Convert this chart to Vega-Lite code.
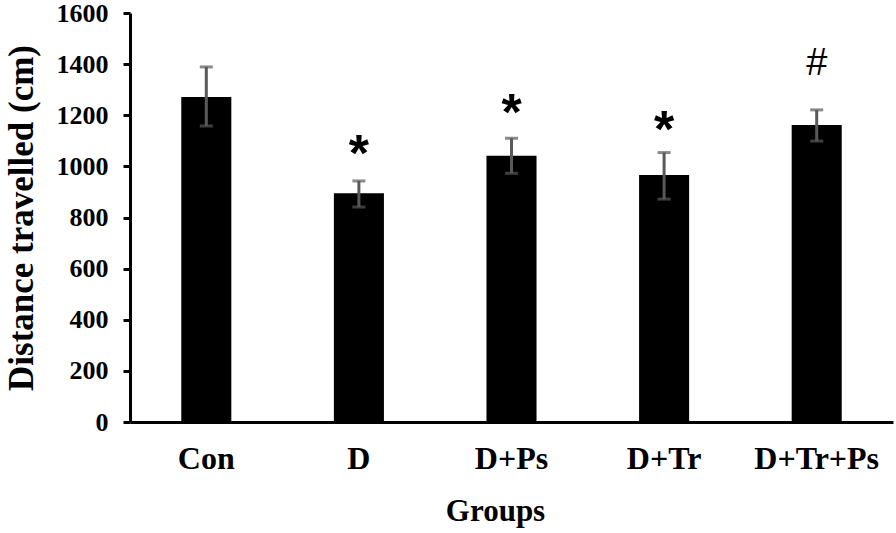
{
  "$schema": "https://vega.github.io/schema/vega-lite/v6.json",
  "autosize": "none",
  "width": 763,
  "height": 409,
  "padding": {"left": 130, "top": 13, "right": 3, "bottom": 111},
  "background": "white",
  "config": {"view": {"stroke": null}},
  "data": {
    "values": [
      {"group": "Con", "mean": 1271, "lo": 1158, "hi": 1389, "mark": "", "markY": 0},
      {"group": "D", "mean": 895, "lo": 841, "hi": 943, "mark": "*", "markY": 1081},
      {"group": "D+Ps", "mean": 1042, "lo": 973, "hi": 1110, "mark": "*", "markY": 1240},
      {"group": "D+Tr", "mean": 966, "lo": 872, "hi": 1054, "mark": "*", "markY": 1175},
      {"group": "D+Tr+Ps", "mean": 1162, "lo": 1099, "hi": 1221, "mark": "#", "markY": 1400}
    ]
  },
  "encoding": {
    "x": {
      "field": "group",
      "type": "nominal",
      "sort": null,
      "scale": {"paddingInner": 0.672, "paddingOuter": 0.336},
      "axis": {
        "title": "Groups",
        "labelAngle": 0,
        "labelFont": "Liberation Serif",
        "labelFontWeight": "bold",
        "labelFontSize": 32,
        "labelColor": "black",
        "labelPadding": 21,
        "ticks": false,
        "domainColor": "black",
        "domainWidth": 3,
        "titleFont": "Liberation Serif",
        "titleFontWeight": "bold",
        "titleFontSize": 31,
        "titleColor": "black",
        "titlePadding": 22,
        "titleX": 365
      }
    }
  },
  "layer": [
    {
      "mark": {"type": "bar", "color": "black"},
      "encoding": {
        "y": {
          "field": "mean",
          "type": "quantitative",
          "scale": {"domain": [0, 1600], "nice": false},
          "axis": {
            "title": "Distance travelled (cm)",
            "values": [0, 200, 400, 600, 800, 1000, 1200, 1400, 1600],
            "format": "d",
            "grid": false,
            "labelFont": "Liberation Serif",
            "labelFontWeight": "bold",
            "labelFontSize": 26,
            "labelColor": "black",
            "labelPadding": 15,
            "tickColor": "black",
            "tickWidth": 3,
            "tickSize": 7,
            "domainColor": "black",
            "domainWidth": 3,
            "titleFont": "Liberation Serif",
            "titleFontWeight": "bold",
            "titleFontSize": 35,
            "titleColor": "black",
            "titlePadding": 17
          }
        }
      }
    },
    {
      "mark": {"type": "rule", "color": "#595959", "strokeWidth": 3},
      "encoding": {
        "y": {"field": "lo", "type": "quantitative"},
        "y2": {"field": "hi"}
      }
    },
    {
      "mark": {"type": "tick", "color": "#595959", "thickness": 3, "size": 13, "orient": "horizontal"},
      "encoding": {"y": {"field": "hi", "type": "quantitative"}}
    },
    {
      "mark": {"type": "tick", "color": "#595959", "thickness": 3, "size": 13, "orient": "horizontal"},
      "encoding": {"y": {"field": "lo", "type": "quantitative"}}
    },
    {
      "transform": [{"filter": "datum.mark == '*'"}],
      "mark": {"type": "text", "font": "Liberation Sans", "fontWeight": "bold", "fontSize": 52, "baseline": "middle", "color": "black", "dy": 9},
      "encoding": {
        "y": {"field": "markY", "type": "quantitative"},
        "text": {"field": "mark"}
      }
    },
    {
      "transform": [{"filter": "datum.mark == '#'"}],
      "mark": {"type": "text", "font": "Liberation Sans", "fontSize": 38, "baseline": "middle", "color": "black"},
      "encoding": {
        "y": {"field": "markY", "type": "quantitative"},
        "text": {"field": "mark"}
      }
    }
  ]
}
